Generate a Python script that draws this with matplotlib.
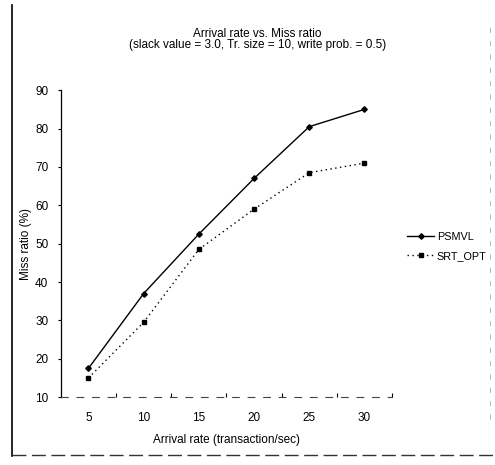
import matplotlib
matplotlib.use('Agg')
import matplotlib.pyplot as plt
from matplotlib.lines import Line2D

plt.rcParams['font.family'] = ['Liberation Sans', 'DejaVu Sans']

arrival_rate = [5, 10, 15, 20, 25, 30]
psmvl = [17.5, 37, 52.5, 67, 80.5, 85]
srt_opt = [15, 29.5, 48.5, 59, 68.5, 71]
y_ticks = [10, 20, 30, 40, 50, 60, 70, 80, 90]

fig = plt.figure(figsize=(4.95, 4.65), dpi=100)
ax = fig.add_axes([0.123, 0.146, 0.669, 0.66])

ax.plot(arrival_rate, psmvl, color='black', lw=1.0, marker='D', ms=2.8, label='PSMVL')
ax.plot(arrival_rate, srt_opt, color='black', lw=1.0, ls=(0, (1, 2.5)), marker='s', ms=3.4,
        label='SRT_OPT')

ax.set_xlim(2.5, 32.5)
ax.set_ylim(10, 90)
ax.set_yticks(y_ticks)
ax.set_xticks(arrival_rate)
ax.set_xticks([7.5, 12.5, 17.5, 22.5, 27.5, 32.5], minor=True)
ax.tick_params(axis='x', which='major', length=0, pad=11, labelsize=8.5)
ax.tick_params(axis='x', which='minor', direction='in', length=3, width=0.8)
ax.tick_params(axis='y', direction='out', length=2, width=0.8, labelsize=8.5, pad=7)

for side in ['top', 'right']:
    ax.spines[side].set_visible(False)
ax.spines['left'].set_linewidth(0.9)
ax.spines['bottom'].set_linewidth(0.8)
ax.spines['bottom'].set_linestyle((0, (6, 8)))
ax.spines['bottom'].set_color('#444444')

ax.set_xlabel('Arrival rate (transaction/sec)', fontsize=8.5, labelpad=7)
ax.set_ylabel('Miss ratio (%)', fontsize=8.5, labelpad=2)

fig.text(0.52, 0.927, 'Arrival rate vs. Miss ratio', ha='center', va='center', fontsize=8.5)
fig.text(0.52, 0.903, '(slack value = 3.0, Tr. size = 10, write prob. = 0.5)', ha='center',
         va='center', fontsize=8.5)

ax.legend(loc='center left', bbox_to_anchor=(0.823, 0.47), bbox_transform=fig.transFigure,
          frameon=False, fontsize=7.8, handlelength=2.5, handletextpad=0.2, labelspacing=0.8,
          borderpad=0, borderaxespad=0)

# scanned frame around the chart
fig.add_artist(Line2D([0.024, 0.024], [0.02, 0.99], color='black', lw=1.2))
fig.add_artist(Line2D([0.024, 0.995], [0.022, 0.022], color='#333333', lw=1.0,
                      ls=(0, (10, 4))))
fig.add_artist(Line2D([0.99, 0.99], [0.1, 0.95], color='#aaaaaa', lw=0.6, ls=(0, (6, 10))))

fig.savefig('out.png', dpi=100)
